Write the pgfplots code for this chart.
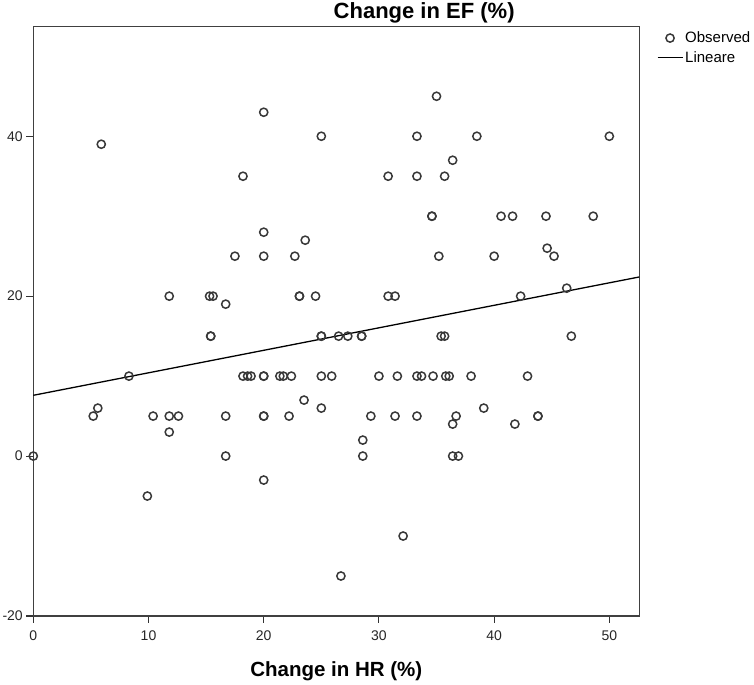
\documentclass[border=0pt]{standalone}
\usepackage{pgfplots}
\pgfplotsset{compat=1.18}
\usepackage{fontspec}
\setmainfont{Liberation Sans}
\pgfplotsset{
  obsleg/.style={legend image code/.code={\draw[##1] plot coordinates {(12.5pt,0pt)};}},
  linleg/.style={legend image code/.code={\draw[##1] (0pt,0pt) -- (25pt,0pt);}},
}
\begin{document}
\begin{tikzpicture}
\begin{axis}[
  scale only axis, width=606pt, height=589.3pt,
  xmin=0, xmax=52.6, ymin=-20, ymax=53.7,
  axis line style={black!75, line width=1.2pt},
  xtick={0,10,20,30,40,50}, ytick={-20,0,20,40},
  tick align=outside, tick pos=left, major tick length=7pt,
  tick style={black!80, line width=1.1pt},
  /pgf/number format/assume math mode=true,
  ticklabel style={font=\fontsize{14}{16}\selectfont, text=black!85},
  xticklabel style={yshift=-4pt},
  xlabel={Change in HR (\%)},
  xlabel style={font=\bfseries\fontsize{20.5}{24}\selectfont, at={(axis description cs:0.5,0)}, anchor=base, yshift=-60.7pt},
  title={Change in EF (\%)},
  title style={font=\bfseries\fontsize{22}{26}\selectfont, at={(axis description cs:0.645,1)}, anchor=base, yshift=2.4pt},
  clip=false,
  legend style={draw=none, fill=none, at={(axis description cs:1,1)}, anchor=north west,
    xshift=17.4pt, yshift=-3pt, font=\fontsize{15}{17}\selectfont, row sep=3pt, inner sep=0pt},
  legend cell align=left,
]
\addplot[only marks, mark=o, mark size=4.1pt, black!78, line width=1.5pt, obsleg]
  coordinates {
  (5.9,39) (20,43) (25,40) (18.2,35) (20,28) (23.6,27) (17.5,25) (20,25) (22.7,25)
  (11.8,20) (15.3,20) (15.6,20) (16.7,19) (23.1,20) (23.1,20) (24.5,20)
  (35,45) (33.3,40) (38.5,40) (50,40) (36.4,37) (30.8,35) (33.3,35) (35.7,35)
  (34.6,30) (34.6,30) (40.6,30) (41.6,30) (44.5,30) (48.6,30)
  (35.2,25) (40,25) (44.6,26) (45.2,25) (46.3,21) (42.3,20) (30.8,20) (31.4,20)
  (15.4,15) (15.4,15) (25,15) (25,15) (26.5,15) (27.3,15) (28.5,15) (28.5,15)
  (35.4,15) (35.7,15) (46.7,15)
  (8.3,10) (18.2,10) (18.6,10) (18.9,10) (20,10) (20,10) (21.4,10) (21.7,10) (22.4,10)
  (25,10) (25.9,10) (30,10) (31.6,10) (33.3,10) (33.7,10) (34.7,10) (35.8,10) (36.1,10)
  (38,10) (42.9,10)
  (5.6,6) (5.2,5) (10.4,5) (11.8,5) (12.6,5) (11.8,3) (16.7,5) (20,5) (20,5) (22.2,5)
  (23.5,7) (25,6) (29.3,5) (31.4,5) (33.3,5) (36.7,5) (36.4,4) (39.1,6) (41.8,4)
  (43.8,5) (43.8,5)
  (28.6,2) (28.6,0) (36.4,0) (36.9,0) (0,0) (16.7,0) (9.9,-5) (20,-3) (32.1,-10) (26.7,-15)
  };
\addlegendentry{Observed}
\addplot[black, line width=1.3pt, linleg]
  coordinates {(0,7.6) (52.6,22.4)};
\addlegendentry{Lineare}
\end{axis}
\pgfresetboundingbox
\path[use as bounding box] ([shift={(-33.3pt,-69pt)}]current axis.south west) rectangle ([shift={(114.7pt,26.7pt)}]current axis.north east);
\end{tikzpicture}
\end{document}
